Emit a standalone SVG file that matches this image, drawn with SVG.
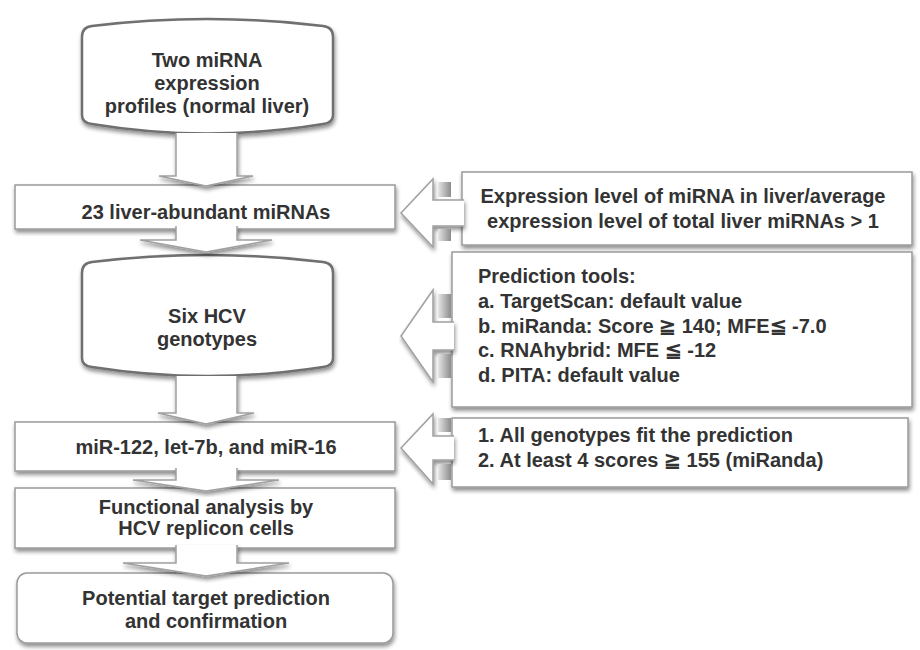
<svg xmlns="http://www.w3.org/2000/svg" width="920" height="650" viewBox="0 0 920 650">
<style>
  .t { font-family: "Liberation Sans", Arial, sans-serif; font-size: 20px; font-weight: bold; fill: #333; }
  .c { text-anchor: middle; }
  .box { fill: #fff; stroke: #9a9a9a; stroke-width: 1.5; }
  .cyl { fill: #fff; stroke: #6f6f6f; stroke-width: 2.5; }
  .arw { fill: #fff; stroke: #a0a0a0; stroke-width: 1.5; stroke-linejoin: miter; }
  .blk { fill: url(#gshade); }
</style>
<defs>
  <filter id="sh" x="-5%" y="-10%" width="115%" height="135%">
    <feGaussianBlur in="SourceAlpha" stdDeviation="2"/>
    <feOffset dx="1" dy="3"/>
    <feComponentTransfer><feFuncA type="linear" slope="0.45"/></feComponentTransfer>
    <feMerge><feMergeNode/><feMergeNode in="SourceGraphic"/></feMerge>
  </filter>
  <linearGradient id="gshade" x1="0" y1="0" x2="1" y2="0">
    <stop offset="0" stop-color="#e6e6e6"/>
    <stop offset="1" stop-color="#8c8c8c"/>
  </linearGradient>
</defs>
<rect width="920" height="650" fill="#fff"/>

<g id="node-profiles">
  <path class="cyl" filter="url(#sh)" d="M92 26 Q207 12 323 26 Q333 27 333 37 L333 115 Q333 123 323 124 Q207 143 92 124 Q82 123 82 115 L82 37 Q82 27 92 26 Z"/>
  <text class="t c" x="207" y="67">Two miRNA</text>
  <text class="t c" x="207" y="90">expression</text>
  <text class="t c" x="207" y="113">profiles (normal liver)</text>
</g>

<g id="node-abundant">
  <rect class="box" filter="url(#sh)" x="15" y="185" width="380" height="44"/>
  <text class="t c" x="206" y="219">23 liver-abundant miRNAs</text>
</g>

<g id="node-hcv">
  <path class="cyl" filter="url(#sh)" d="M92 262 Q207 248 323 262 Q333 263 333 273 L333 358 Q333 366 323 367 Q207 385 92 367 Q82 366 82 358 L82 273 Q82 263 92 262 Z"/>
  <text class="t c" x="207" y="323">Six HCV</text>
  <text class="t c" x="207" y="346">genotypes</text>
</g>

<g id="node-mirs">
  <rect class="box" filter="url(#sh)" x="15" y="422" width="380" height="49"/>
  <text class="t c" x="206" y="454">miR-122, let-7b, and miR-16</text>
</g>

<g id="node-functional">
  <rect class="box" filter="url(#sh)" x="15" y="488" width="380" height="60"/>
  <text class="t c" x="206" y="514">Functional analysis by</text>
  <text class="t c" x="206" y="535">HCV replicon cells</text>
</g>

<g id="node-potential">
  <rect class="box" filter="url(#sh)" x="17" y="573" width="376" height="70" rx="10"/>
  <text class="t c" x="206" y="605">Potential target prediction</text>
  <text class="t c" x="206" y="628">and confirmation</text>
</g>

<g id="node-criterion1">
  <rect class="box" filter="url(#sh)" x="462" y="172" width="450" height="73"/>
  <text class="t c" x="683" y="203">Expression level of miRNA in liver/average</text>
  <text class="t c" x="683" y="228">expression level of total liver miRNAs &gt; 1</text>
</g>

<g id="node-tools">
  <rect class="box" filter="url(#sh)" x="452" y="252" width="460" height="155"/>
  <text class="t" x="478" y="283">Prediction tools:</text>
  <text class="t" x="478" y="308">a. TargetScan: default value</text>
  <text class="t" x="478" y="333">b. miRanda: Score ≧ 140; MFE≦ -7.0</text>
  <text class="t" x="478" y="357">c. RNAhybrid: MFE ≦ -12</text>
  <text class="t" x="478" y="382">d. PITA: default value</text>
</g>

<g id="node-criterion2">
  <rect class="box" filter="url(#sh)" x="452" y="418" width="456" height="69"/>
  <text class="t" x="478" y="442">1. All genotypes fit the prediction</text>
  <text class="t" x="478" y="467">2. At least 4 scores ≧ 155 (miRanda)</text>
</g>

<g id="connectors">
  <!-- vertical flow arrows -->
  <path class="arw" filter="url(#sh)" d="M176 133 L176 176 L159 176 L206 186 L253 176 L237 176 L237 133"/>
  <path class="arw" filter="url(#sh)" d="M176 226 L176 240 L140 240 L206 252 L272 240 L237 240 L237 226"/>
  <path class="arw" filter="url(#sh)" d="M176 376 L176 413 L158 413 L206 424 L254 413 L237 413 L237 376"/>
  <path class="arw" filter="url(#sh)" d="M176 468 L176 480 L133 480 L206 491 L279 480 L237 480 L237 468"/>
  <path class="arw" filter="url(#sh)" d="M176 545 L176 563 L123 563 L206 576 L289 563 L237 563 L237 545"/>
  <!-- left-pointing arrows from criteria -->
  <path class="arw" filter="url(#sh)" d="M464 200 L433 200 L433 179 L401 213 L433 247 L433 226 L464 226"/>
  <rect class="blk" x="438" y="182" width="13" height="15"/>
  <rect class="blk" x="438" y="229" width="13" height="12"/>
  <path class="arw" filter="url(#sh)" d="M454 322 L433 322 L433 290 L401 336 L433 382 L433 350 L454 350"/>
  <rect class="blk" x="438" y="294" width="13" height="24"/>
  <rect class="blk" x="438" y="354" width="13" height="24"/>
  <path class="arw" filter="url(#sh)" d="M454 436 L433 436 L433 414 L401 448 L433 484 L433 460 L454 460"/>
  <rect class="blk" x="438" y="418" width="13" height="14"/>
  <rect class="blk" x="438" y="464" width="13" height="16"/>
</g>
</svg>
